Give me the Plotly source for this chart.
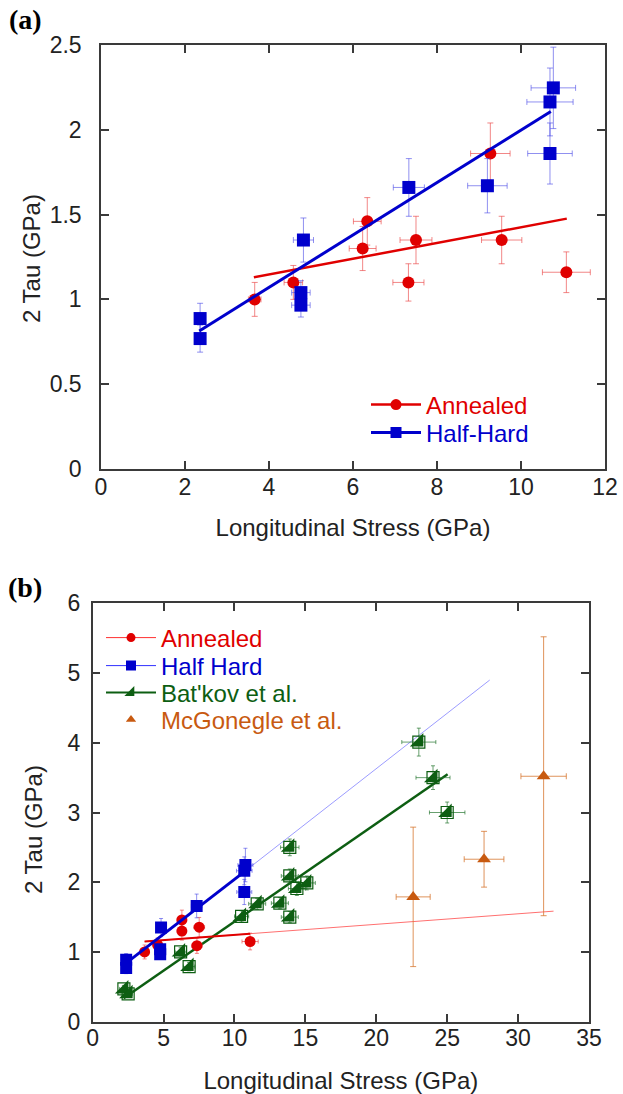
import plotly.graph_objects as go

# ---------------- Panel (a) data ----------------
ann_a_x = [3.66, 4.58, 6.23, 6.34, 7.32, 7.50, 9.27, 9.54, 11.08]
ann_a_y = [1.00, 1.10, 1.30, 1.46, 1.10, 1.35, 1.86, 1.35, 1.16]
ann_a_xerr = [0.15, 0.22, 0.32, 0.33, 0.37, 0.38, 0.47, 0.48, 0.57]
ann_a_yerr = [0.10, 0.10, 0.13, 0.14, 0.11, 0.14, 0.18, 0.14, 0.12]

hh_a_x = [2.36, 2.36, 4.76, 4.76, 4.82, 7.33, 9.20, 10.69, 10.69, 10.77]
hh_a_y = [0.887, 0.769, 1.04, 0.966, 1.35, 1.66, 1.67, 1.86, 2.164, 2.247]
hh_a_xerr = [0.05, 0.05, 0.22, 0.22, 0.24, 0.37, 0.47, 0.53, 0.55, 0.53]
hh_a_yerr = [0.09, 0.08, 0.07, 0.07, 0.13, 0.17, 0.16, 0.18, 0.20, 0.24]

fit_ann_a_x = [3.64, 11.09]
fit_ann_a_y = [1.130, 1.476]
fit_hh_a_x = [2.34, 10.71]
fit_hh_a_y = [0.814, 2.108]

# ---------------- Panel (b) data ----------------
ann_b_x = [3.66, 4.58, 6.29, 6.29, 7.35, 7.51, 11.10]
ann_b_y = [1.00, 1.10, 1.30, 1.46, 1.09, 1.355, 1.15]
ann_b_xerr = [0.15, 0.22, 0.32, 0.33, 0.37, 0.38, 0.57]
ann_b_yerr = [0.10, 0.10, 0.13, 0.14, 0.11, 0.14, 0.12]

hh_b_x = [2.36, 2.36, 4.76, 4.76, 4.82, 7.33, 10.69, 10.69, 10.77]
hh_b_y = [0.887, 0.769, 1.04, 0.966, 1.35, 1.66, 1.86, 2.164, 2.247]
hh_b_xerr = [0.05, 0.05, 0.22, 0.22, 0.24, 0.37, 0.53, 0.55, 0.53]
hh_b_yerr = [0.09, 0.08, 0.07, 0.07, 0.13, 0.17, 0.18, 0.20, 0.24]

bk_x = [2.2, 2.5, 6.2, 6.8, 10.5, 11.6, 13.2, 13.9, 13.9, 13.9, 14.4, 15.1, 23.0, 24.0, 25.0]
bk_y = [0.47, 0.40, 1.00, 0.79, 1.51, 1.69, 1.70, 1.50, 2.09, 2.50, 1.91, 1.99, 4.01, 3.50, 3.00]
bk_xerr = [0.3, 0.3, 0.4, 0.4, 0.5, 0.6, 0.6, 0.6, 0.6, 0.65, 0.6, 0.6, 1.2, 1.2, 1.25]
bk_yerr = [0.05, 0.05, 0.06, 0.06, 0.08, 0.08, 0.08, 0.08, 0.10, 0.12, 0.10, 0.10, 0.20, 0.17, 0.15]

mc_x = [22.6, 27.6, 31.8]
mc_y = [1.79, 2.33, 3.52]
mc_xerr = [1.2, 1.4, 1.6]
mc_yerr = [1.0, 0.4, 2.0]

fit_ann_b_thick_x = [3.66, 11.1]
fit_ann_b_thick_y = [1.15, 1.26]
fit_ann_b_thin_x = [3.66, 32.5]
fit_ann_b_thin_y = [1.15, 1.585]
fit_hh_b_thick_x = [2.42, 10.75]
fit_hh_b_thick_y = [0.85, 2.16]
fit_hh_b_thin_x = [10.75, 28.0]
fit_hh_b_thin_y = [2.16, 4.90]
fit_bk_x = [2.18, 25.03]
fit_bk_y = [0.337, 3.55]

RED = '#e00000'
BLUE = '#0000cc'
GREEN = '#0d5e12'
ORANGE = '#c85a10'
FONT = 'Liberation Sans, Arial, sans-serif'
W, H = 623, 1094

fig = go.Figure()


def err(vals, color, width=3):
    return dict(type='data', array=vals, visible=True, color=color, thickness=1, width=width)


def line_trace(x, y, color, width, xa, ya):
    fig.add_trace(go.Scatter(x=x, y=y, mode='lines', line=dict(color=color, width=width),
                             showlegend=False, hoverinfo='skip', xaxis=xa, yaxis=ya))


def legend_entry(name, color, symbol, size, lwidth, legend, mode='lines+markers', lcolor=None):
    fig.add_trace(go.Scatter(x=[None], y=[None], mode=mode,
                             name="<span style='color:%s'>%s</span>" % (color, name),
                             line=dict(color=lcolor or color, width=lwidth),
                             marker=dict(symbol=symbol, size=size, color=color),
                             legend=legend, showlegend=True))


# ---- Panel (a) ----
fig.add_trace(go.Scatter(x=ann_a_x, y=ann_a_y, mode='markers',
                         error_x=err(ann_a_xerr, 'rgba(235,70,70,0.65)'),
                         error_y=err(ann_a_yerr, 'rgba(235,70,70,0.65)'),
                         marker=dict(symbol='circle', size=12, color=RED),
                         showlegend=False, xaxis='x', yaxis='y'))
fig.add_trace(go.Scatter(x=hh_a_x, y=hh_a_y, mode='markers',
                         error_x=err(hh_a_xerr, 'rgba(70,70,230,0.6)'),
                         error_y=err(hh_a_yerr, 'rgba(70,70,230,0.6)'),
                         marker=dict(symbol='square', size=13, color=BLUE),
                         showlegend=False, xaxis='x', yaxis='y'))
line_trace(fit_ann_a_x, fit_ann_a_y, RED, 2.5, 'x', 'y')
line_trace(fit_hh_a_x, fit_hh_a_y, BLUE, 3, 'x', 'y')

legend_entry('Annealed', RED, 'circle', 11, 2.5, 'legend')
legend_entry('Half-Hard', BLUE, 'square', 11, 3, 'legend2')

# ---- Panel (b) ----
line_trace(fit_ann_b_thin_x, fit_ann_b_thin_y, '#ff7070', 1, 'x2', 'y2')
line_trace(fit_hh_b_thin_x, fit_hh_b_thin_y, '#9c9cff', 1, 'x2', 'y2')
line_trace(fit_bk_x, fit_bk_y, GREEN, 2.5, 'x2', 'y2')

fig.add_trace(go.Scatter(x=bk_x, y=bk_y, mode='markers',
                         error_x=err(bk_xerr, 'rgba(40,120,50,0.7)', 2),
                         error_y=err(bk_yerr, 'rgba(40,120,50,0.7)', 2),
                         marker=dict(symbol='square-open', size=12, color=GREEN, line=dict(width=1.2)),
                         showlegend=False, xaxis='x2', yaxis='y2'))
fig.add_trace(go.Scatter(x=bk_x, y=bk_y, mode='markers',
                         marker=dict(symbol='triangle-se', size=15, color=GREEN, line=dict(width=0)),
                         showlegend=False, hoverinfo='skip', xaxis='x2', yaxis='y2'))
fig.add_trace(go.Scatter(x=mc_x, y=mc_y, mode='markers',
                         error_x=err(mc_xerr, 'rgba(215,120,50,0.8)', 3),
                         error_y=err(mc_yerr, 'rgba(215,120,50,0.8)', 3),
                         marker=dict(symbol='triangle-up', size=12, color=ORANGE),
                         showlegend=False, xaxis='x2', yaxis='y2'))
fig.add_trace(go.Scatter(x=ann_b_x, y=ann_b_y, mode='markers',
                         error_x=err(ann_b_xerr, 'rgba(235,70,70,0.65)', 2),
                         error_y=err(ann_b_yerr, 'rgba(235,70,70,0.65)', 2),
                         marker=dict(symbol='circle', size=11, color=RED),
                         showlegend=False, xaxis='x2', yaxis='y2'))
fig.add_trace(go.Scatter(x=hh_b_x, y=hh_b_y, mode='markers',
                         error_x=err(hh_b_xerr, 'rgba(70,70,230,0.6)', 2),
                         error_y=err(hh_b_yerr, 'rgba(70,70,230,0.6)', 2),
                         marker=dict(symbol='square', size=12, color=BLUE),
                         showlegend=False, xaxis='x2', yaxis='y2'))
line_trace(fit_ann_b_thick_x, fit_ann_b_thick_y, RED, 2, 'x2', 'y2')
line_trace(fit_hh_b_thick_x, fit_hh_b_thick_y, BLUE, 3, 'x2', 'y2')

legend_entry('Annealed', RED, 'circle', 9, 1, 'legend3', lcolor='#ff3030')
legend_entry('Half Hard', BLUE, 'square', 10, 1, 'legend4', lcolor='#3030ff')
legend_entry("Bat'kov et al.", GREEN, 'triangle-se', 11, 2, 'legend5')
legend_entry('McGonegle et al.', ORANGE, 'triangle-up', 9, 1, 'legend6', mode='markers')

axis_style = dict(showline=True, linecolor='#3a3a3a', linewidth=1.5, mirror='ticks',
                  ticks='inside', ticklen=8, tickwidth=1.5, tickcolor='#3a3a3a',
                  showgrid=False, zeroline=False, automargin=False,
                  tickfont=dict(family=FONT, size=23, color='#222222'))
title_font = dict(family=FONT, size=24, color='#222222')


def leg(px, py):
    return dict(x=px / W, y=1 - py / H, xanchor='left', yanchor='middle',
                bgcolor='rgba(0,0,0,0)', font=dict(family=FONT, size=24),
                itemwidth=50, tracegroupgap=0)


def text_ann(text, px, py, font, angle=0):
    return dict(text=text, x=px / W, y=1 - py / H, xref='paper', yref='paper',
                xanchor='center', yanchor='middle', showarrow=False, textangle=angle, font=font)


serif = dict(family='Liberation Serif, Times New Roman, serif', size=28, color='black')

fig.update_layout(
    width=W, height=H, margin=dict(l=0, r=0, t=0, b=0),
    paper_bgcolor='white', plot_bgcolor='white',
    font=dict(family=FONT, color='#222222'),
    xaxis=dict(domain=[0.1621, 0.9711], anchor='y', range=[0, 12], dtick=2, tick0=0,
               ticklabelstandoff=-3,
               title=dict(text='Longitudinal Stress (GPa)', font=title_font, standoff=20),
               **axis_style),
    yaxis=dict(domain=[0.5713, 0.9589], anchor='x', range=[0, 2.5], dtick=0.5, tick0=0,
               ticklabelstandoff=13, **axis_style),
    xaxis2=dict(domain=[0.1488, 0.9454], anchor='y2', range=[0, 35], dtick=5, tick0=0,
                ticklabelstandoff=-5,
                title=dict(text='Longitudinal Stress (GPa)', font=title_font, standoff=23),
                **axis_style),
    yaxis2=dict(domain=[0.0661, 0.4485], anchor='x2', range=[0, 6], dtick=1, tick0=0,
                ticklabelstandoff=6, **axis_style),
    legend=leg(366, 405),
    legend2=leg(366, 433),
    legend3=leg(101, 638),
    legend4=leg(101, 666),
    legend5=leg(101, 693),
    legend6=leg(101, 720),
    annotations=[
        text_ann('<b>(a)</b>', 25, 20, serif),
        text_ann('<b>(b)</b>', 25, 587, serif),
        text_ann('2 Tau (GPa)', 32, 259, title_font, -90),
        text_ann('2 Tau (GPa)', 33, 830, title_font, -90),
    ],
)

fig.write_html('out.html', config={'displayModeBar': False},
               post_script="document.body.style.margin='0px';document.body.style.overflow='hidden';")
